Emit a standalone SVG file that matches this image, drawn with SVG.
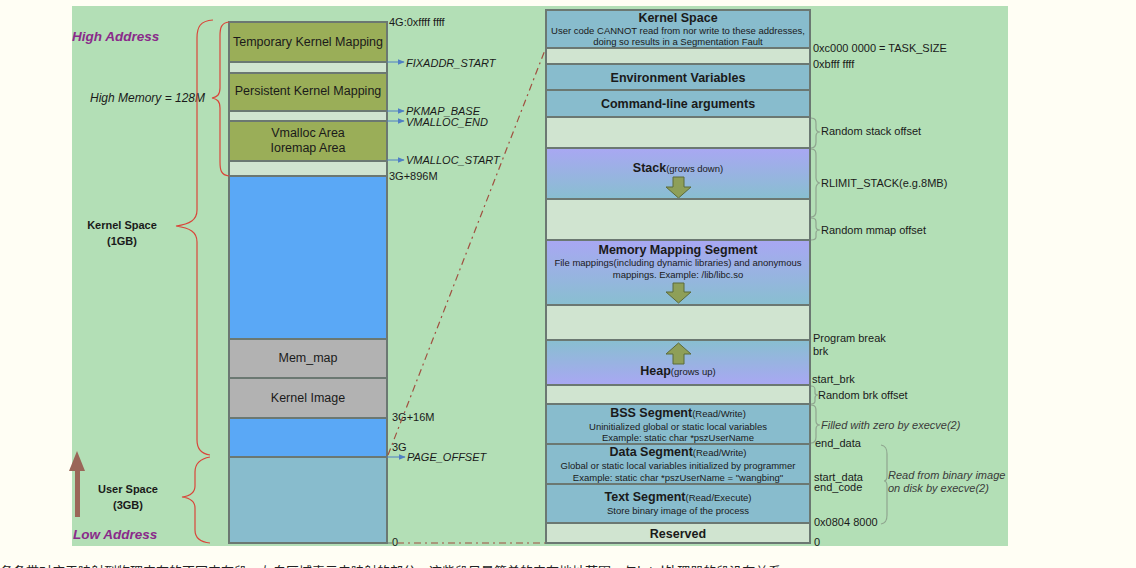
<svg xmlns="http://www.w3.org/2000/svg" width="1136" height="568" viewBox="0 0 1136 568">
<defs>
<linearGradient id="gDown" x1="0" y1="0" x2="0" y2="1"><stop offset="0" stop-color="#a9a7f3"/><stop offset="1" stop-color="#88bfd0"/></linearGradient>
<linearGradient id="gUp" x1="0" y1="0" x2="0" y2="1"><stop offset="0" stop-color="#88bfd0"/><stop offset="1" stop-color="#a9a7f3"/></linearGradient>
<marker id="ab" viewBox="0 0 10 10" refX="9" refY="5" markerWidth="7" markerHeight="7" orient="auto"><path d="M0,1 L10,5 L0,9 z" fill="#4f7fc4"/></marker>
</defs>
<style>
text{font-family:"Liberation Sans",Arial,sans-serif;fill:#1a1a1a}
.b{stroke:#6b7872;stroke-width:2}
.olive{fill:#9aae58}
.lt{fill:#d0e4d0}
.bl{fill:#5aa8f6}
.gr{fill:#b2b2b2}
.us{fill:#88bccd}
.c{text-anchor:middle}
.t12{font-size:12.5px}
.h{font-size:12.5px;font-weight:bold}
.s{font-size:9.5px}
.lab{font-size:11px}
.it{font-style:italic}
.red{fill:none;stroke:#d9463a;stroke-width:1.2}
.gb{fill:none;stroke:#8fa58f;stroke-width:1.2}
.arrowfill{fill:#8e9f58;stroke:#5b6a3a;stroke-width:1}
.purple{fill:#8a2a8a;font-weight:bold;font-style:italic;font-size:13.5px}
</style>
<rect x="0" y="0" width="1136" height="568" fill="#fffef4"/>
<rect x="72" y="6" width="936" height="540" fill="#b3dfb6"/>

<g id="left-column">
<g id="temp-kmap"><rect class="b olive" x="229" y="22" width="158" height="40"/><text class="c t12" x="308" y="46">Temporary Kernel Mapping</text></g>
<g id="gap1"><rect class="b lt" x="229" y="62" width="158" height="11"/></g>
<g id="persist-kmap"><rect class="b olive" x="229" y="73" width="158" height="38"/><text class="c t12" x="308" y="95">Persistent Kernel Mapping</text></g>
<g id="gap2"><rect class="b lt" x="229" y="111" width="158" height="10"/></g>
<g id="vmalloc"><rect class="b olive" x="229" y="121" width="158" height="40"/><text class="c t12" x="308" y="137">Vmalloc Area</text><text class="c t12" x="308" y="152">Ioremap Area</text></g>
<g id="gap3"><rect class="b lt" x="229" y="161" width="158" height="15"/></g>
<g id="direct-map"><rect class="b bl" x="229" y="176" width="158" height="163"/></g>
<g id="mem-map"><rect class="b gr" x="229" y="339" width="158" height="39"/><text class="c t12" x="308" y="362">Mem_map</text></g>
<g id="kernel-image"><rect class="b gr" x="229" y="378" width="158" height="40"/><text class="c t12" x="308" y="402">Kernel Image</text></g>
<g id="low-kernel"><rect class="b bl" x="229" y="418" width="158" height="39"/></g>
<g id="user-space"><rect class="b us" x="229" y="457" width="158" height="86"/></g>
</g>

<g id="left-labels">
<text class="purple" x="72" y="41">High Address</text>
<text class="purple" x="73" y="539">Low Address</text>
<text class="it" x="90" y="102" style="font-size:12px">High Memory = 128M</text>
<text class="lab c" x="122" y="229" style="font-weight:bold">Kernel Space</text>
<text class="lab c" x="122" y="245" style="font-weight:bold">(1GB)</text>
<text class="lab c" x="128" y="493" style="font-weight:bold">User Space</text>
<text class="lab c" x="128" y="509" style="font-weight:bold">(3GB)</text>
<path class="red" d="M229,22 C221,23 220,28 220,36 L220,88 C220,95 217,97 212,98 C217,99 220,101 220,108 L220,162 C220,170 221,175 229,176"/>
<path class="red" d="M213,20 C200,21 197,27 197,38 L197,210 C197,220 190,224 176,226 C190,228 197,232 197,242 L197,440 C197,450 203,454 210,455"/>
<path class="red" d="M210,457 C199,459 195,464 195,472 L195,486 C195,493 190,496 182,497 C190,498 195,501 195,508 L195,530 C195,538 200,542 210,543"/>
<path d="M75,517 L75,471 L69,471 L77,451 L85,471 L80,471 L80,517 z" fill="#9a6658"/>
<text class="lab" x="389" y="26">4G:0xffff ffff</text>
<text class="lab it" x="406" y="67">FIXADDR_START</text>
<text class="lab it" x="406" y="115">PKMAP_BASE</text>
<text class="lab it" x="406" y="126">VMALLOC_END</text>
<text class="lab it" x="406" y="164">VMALLOC_START</text>
<text class="lab" x="389" y="180">3G+896M</text>
<text class="lab" x="392" y="421">3G+16M</text>
<text class="lab" x="392" y="451">3G</text>
<text class="lab it" x="407" y="461">PAGE_OFFSET</text>
<text class="lab" x="392" y="546">0</text>
</g>

<g id="right-column">
<g id="kernel-space"><rect class="b us" x="546" y="10" width="264" height="38"/><text class="c h" x="678" y="22">Kernel Space</text><text class="c s" x="678" y="34">User code CANNOT read from nor write to these addresses,</text><text class="c s" x="678" y="45">doing so results in a Segmentation Fault</text></g>
<g id="rgap1"><rect class="b lt" x="546" y="48" width="264" height="16"/></g>
<g id="env"><rect class="b us" x="546" y="64" width="264" height="26"/><text class="c h" x="678" y="82">Environment Variables</text></g>
<g id="cmdline"><rect class="b us" x="546" y="90" width="264" height="27"/><text class="c h" x="678" y="108">Command-line arguments</text></g>
<g id="rgap2"><rect class="b lt" x="546" y="117" width="264" height="31"/></g>
<g id="stack"><rect class="b" fill="url(#gDown)" x="546" y="148" width="264" height="51"/><text class="c" x="678" y="172"><tspan class="h">Stack</tspan><tspan class="s">(grows down)</tspan></text><path class="arrowfill" d="M673,177 h11 v10 h7 l-12.5,11 l-12.5,-11 h7 z"/></g>
<g id="rgap3"><rect class="b lt" x="546" y="199" width="264" height="41"/></g>
<g id="mmap"><rect class="b" fill="url(#gDown)" x="546" y="240" width="264" height="65"/><text class="c h" x="678" y="254">Memory Mapping Segment</text><text class="c s" x="678" y="266">File mappings(including dynamic libraries) and anonymous</text><text class="c s" x="678" y="278">mappings. Example: /lib/libc.so</text><path class="arrowfill" d="M673,283 h11 v9 h7 l-12.5,11 l-12.5,-11 h7 z"/></g>
<g id="rgap4"><rect class="b lt" x="546" y="305" width="264" height="35"/></g>
<g id="heap"><rect class="b" fill="url(#gUp)" x="546" y="340" width="264" height="45"/><path class="arrowfill" d="M673,364 h11 v-10 h7 l-12.5,-11 l-12.5,11 h7 z"/><text class="c" x="678" y="375"><tspan class="h">Heap</tspan><tspan class="s">(grows up)</tspan></text></g>
<g id="rgap5"><rect class="b lt" x="546" y="385" width="264" height="19"/></g>
<g id="bss"><rect class="b us" x="546" y="404" width="264" height="40"/><text class="c" x="678" y="417"><tspan class="h">BSS Segment</tspan><tspan class="s">(Read/Write)</tspan></text><text class="c s" x="678" y="430">Uninitialized global or static local variables</text><text class="c s" x="678" y="441">Example: static char *pszUserName</text></g>
<g id="data"><rect class="b us" x="546" y="444" width="264" height="40"/><text class="c" x="678" y="456"><tspan class="h">Data Segment</tspan><tspan class="s">(Read/Write)</tspan></text><text class="c s" x="678" y="469">Global or static local variables initialized by programmer</text><text class="c s" x="678" y="481">Example: static char *pszUserName = "wangbing"</text></g>
<g id="text-seg"><rect class="b us" x="546" y="484" width="264" height="39"/><text class="c" x="678" y="501"><tspan class="h">Text Segment</tspan><tspan class="s">(Read/Execute)</tspan></text><text class="c s" x="678" y="514">Store binary image of the process</text></g>
<g id="reserved"><rect class="b lt" x="546" y="523" width="264" height="20"/><text class="c h" x="678" y="538">Reserved</text></g>
</g>

<g id="right-labels">
<text class="lab" x="813" y="52">0xc000 0000 = TASK_SIZE</text>
<text class="lab" x="813" y="68">0xbfff ffff</text>
<path class="gb" d="M811,118 C816,118 816,121 816,124 L816,128 C816,131 818,132 820,132 C818,132 816,133 816,136 L816,142 C816,146 815,148 811,148"/>
<text class="lab" x="821" y="135">Random stack offset</text>
<path class="gb" d="M811,149 C816,149 816,152 816,156 L816,178 C816,181 818,183 820,183 C818,183 816,185 816,188 L816,211 C816,215 815,217 811,217"/>
<text class="lab" x="821" y="187">RLIMIT_STACK(e.g.8MB)</text>
<path class="gb" d="M811,218 C816,218 816,220 816,223 L816,227 C816,229 818,230 820,230 C818,230 816,231 816,233 L816,237 C816,239 815,240 811,240"/>
<text class="lab" x="821" y="234">Random mmap offset</text>
<text class="lab" x="813" y="342">Program break</text>
<text class="lab" x="813" y="355">brk</text>
<text class="lab" x="812" y="383">start_brk</text>
<path class="gb" d="M811,386 C815,386 815,388 815,390 L815,393 C815,395 816,395 818,395 C816,395 815,396 815,398 L815,401 C815,403 814,404 811,404"/>
<text class="lab" x="818" y="399">Random brk offset</text>
<path class="gb" d="M811,405 C816,405 816,408 816,412 L816,421 C816,424 818,425 820,425 C818,425 816,426 816,429 L816,437 C816,441 815,443 811,443"/>
<text class="lab it" x="821" y="429" style="fill:#3a3a3a">Filled with zero by execve(2)</text>
<text class="lab" x="815" y="447">end_data</text>
<text class="lab" x="814" y="481">start_data</text>
<text class="lab" x="814" y="491">end_code</text>
<text class="lab" x="814" y="526">0x0804 8000</text>
<text class="lab" x="814" y="546">0</text>
<path class="gb" d="M881,445 C886,446 887,449 887,454 L887,476 C887,479 886,481 884,481 C886,481 887,483 887,486 L887,515 C887,520 886,523 881,524"/>
<text class="lab it" x="888" y="479" style="fill:#3a3a3a">Read from binary image</text>
<text class="lab it" x="888" y="492" style="fill:#3a3a3a">on disk by execve(2)</text>
</g>

<g id="connectors">
<line x1="387" y1="62" x2="404" y2="62" stroke="#4f7fc4" stroke-width="1" marker-end="url(#ab)"/>
<line x1="387" y1="111" x2="404" y2="111" stroke="#4f7fc4" stroke-width="1" marker-end="url(#ab)"/>
<line x1="387" y1="121" x2="404" y2="121" stroke="#4f7fc4" stroke-width="1" marker-end="url(#ab)"/>
<line x1="387" y1="160" x2="404" y2="160" stroke="#4f7fc4" stroke-width="1" marker-end="url(#ab)"/>
<line x1="387" y1="457" x2="405" y2="457" stroke="#4f7fc4" stroke-width="1" marker-end="url(#ab)"/>
<line x1="388" y1="455" x2="545" y2="50" stroke="#a05040" stroke-width="1.2" stroke-dasharray="7,4,2,4"/>
<line x1="397" y1="543" x2="545" y2="543" stroke="#a05040" stroke-width="1.2" stroke-dasharray="7,4,2,4"/>
<line x1="387" y1="543" x2="392" y2="543" stroke="#6b7872" stroke-width="1"/>
</g>

<text x="0" y="576" style="font-family:'Noto Sans CJK SC',sans-serif;font-size:13px;fill:#222">各条带对应于映射到物理内存的不同内存段，左白区域表示未映射的部分，这些段只是简单的内存地址范围，与Intel处理器的段没有关系</text>
</svg>
